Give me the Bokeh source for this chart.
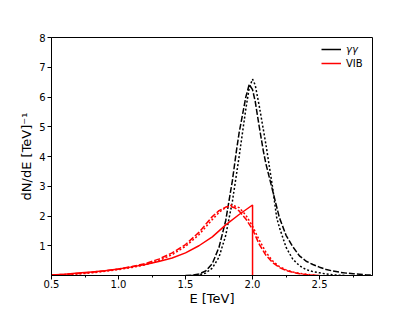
from bokeh.plotting import figure
from bokeh.models import Range1d, FixedTicker, PrintfTickFormatter, Legend, LegendItem
from bokeh.embed import file_html
from bokeh.resources import INLINE

# ---- data ----
# VIB intrinsic spectrum (red solid), with the sharp edge at 2 TeV
vib_E = [0.5, 0.6, 0.7, 0.8, 0.9, 1.0, 1.1, 1.2, 1.3, 1.4, 1.5, 1.6, 1.7, 1.8, 1.9, 2.0, 2.0]
vib_true = [0.02, 0.04, 0.08, 0.12, 0.16, 0.22, 0.29, 0.37, 0.47, 0.59, 0.76, 1.0, 1.3, 1.7, 2.05, 2.37, 0.0]

# VIB smeared (red dashed)
vibd_E = [0.5, 0.6, 0.7, 0.8, 0.9, 1.0, 1.1, 1.2, 1.3, 1.4, 1.5, 1.6, 1.7, 1.75, 1.8, 1.83, 1.87, 1.9,
          1.95, 2.0, 2.05, 2.1, 2.15, 2.2, 2.25, 2.3, 2.35, 2.4, 2.45, 2.5]
vib_dashed = [0.02, 0.04, 0.07, 0.11, 0.16, 0.22, 0.30, 0.40, 0.55, 0.76, 1.04, 1.45, 1.98, 2.18, 2.30, 2.33,
              2.27, 2.17, 1.90, 1.55, 1.05, 0.68, 0.43, 0.27, 0.17, 0.11, 0.06, 0.03, 0.01, 0.0]

# VIB smeared (red dotted)
vibt_E = [0.5, 0.6, 0.7, 0.8, 0.9, 1.0, 1.1, 1.2, 1.3, 1.4, 1.5, 1.6, 1.7, 1.75, 1.8, 1.845, 1.9, 1.95,
          2.0, 2.05, 2.1, 2.15, 2.2, 2.25, 2.3, 2.35, 2.4, 2.45, 2.5]
vib_dotted = [0.01, 0.03, 0.05, 0.09, 0.14, 0.20, 0.27, 0.36, 0.50, 0.70, 0.98, 1.37, 1.88, 2.12, 2.29, 2.37,
              2.28, 2.03, 1.66, 1.19, 0.78, 0.49, 0.30, 0.19, 0.12, 0.07, 0.04, 0.02, 0.0]

# gamma-gamma line smeared (black dashed)
gg_d_E = [1.5, 1.55, 1.6, 1.65, 1.7, 1.75, 1.8, 1.85, 1.88, 1.9, 1.95, 1.975, 2.0, 2.02, 2.05, 2.08, 2.1,
          2.15, 2.2, 2.25, 2.3, 2.35, 2.4, 2.45, 2.5, 2.55, 2.6, 2.65, 2.7, 2.75, 2.8, 2.85, 2.9]
gg_dashed = [0.0, 0.01, 0.05, 0.15, 0.40, 0.95, 1.85, 3.2, 4.2, 4.8, 6.0, 6.42, 6.25, 5.85, 5.0, 4.2, 3.75,
             2.85, 1.95, 1.35, 0.97, 0.66, 0.48, 0.37, 0.28, 0.2, 0.15, 0.11, 0.08, 0.06, 0.04, 0.02, 0.01]

# gamma-gamma line smeared (black dotted)
gg_t_E = [1.55, 1.6, 1.65, 1.7, 1.75, 1.8, 1.85, 1.9, 1.95, 1.975, 2.0, 2.02, 2.05, 2.1, 2.15, 2.18, 2.2,
          2.25, 2.3, 2.35, 2.4, 2.45, 2.5, 2.55, 2.6, 2.65, 2.7]
gg_dotted = [0.0, 0.02, 0.08, 0.25, 0.62, 1.35, 2.5, 4.0, 5.6, 6.3, 6.6, 6.4, 5.7, 4.4, 2.95, 1.95, 1.62,
             0.95, 0.55, 0.33, 0.2, 0.13, 0.09, 0.05, 0.02, 0.01, 0.0]

x_major = [0.5, 1.0, 1.5, 2.0, 2.5]
x_minor = [0.75, 1.25, 1.75, 2.25, 2.75]
y_major = [1, 2, 3, 4, 5, 6, 7, 8]

FONT = "DejaVu Sans"

p = figure(width=405, height=310, output_backend="svg", toolbar_location=None,
           x_range=Range1d(0.5, 2.895), y_range=Range1d(0, 8),
           min_border_left=51, min_border_right=33, min_border_top=37, min_border_bottom=35)
p.xgrid.visible = False
p.ygrid.visible = False
p.outline_line_color = "black"
p.outline_line_width = 1
p.outline_line_alpha = 1
p.background_fill_color = "white"
p.border_fill_color = "white"

for ax in (p.xaxis[0], p.yaxis[0]):
    ax.axis_line_color = "black"
    ax.major_tick_line_color = "black"
    ax.minor_tick_line_color = "black"
    ax.major_tick_out = 4
    ax.major_tick_in = 0
    ax.minor_tick_out = 2
    ax.minor_tick_in = 0
    ax.major_label_text_font = FONT
    ax.major_label_text_font_size = "10px"
    ax.major_label_text_color = "black"
    ax.axis_label_text_font = FONT
    ax.axis_label_text_font_size = "13px"
    ax.axis_label_text_font_style = "normal"
    ax.axis_label_text_color = "black"

p.xaxis[0].major_label_standoff = 0
p.xaxis[0].axis_label_standoff = 0
p.yaxis[0].major_label_standoff = 2
p.yaxis[0].axis_label_standoff = 2

p.xaxis[0].ticker = FixedTicker(ticks=x_major, minor_ticks=x_minor)
p.xaxis[0].formatter = PrintfTickFormatter(format="%.1f")
p.yaxis[0].ticker = FixedTicker(ticks=y_major, minor_ticks=[])
p.xaxis[0].axis_label = "E [TeV]"
p.yaxis[0].axis_label = "dN/dE [TeV]\u207b\u00b9"

# curves
p.line(gg_d_E, gg_dashed, line_color="black", line_width=1.5, line_dash="6 2")
p.line(gg_t_E, gg_dotted, line_color="black", line_width=1.5, line_dash="2 2")
r_vib = p.line(vib_E, vib_true, line_color="red", line_width=1.5)
p.line(vibd_E, vib_dashed, line_color="red", line_width=1.5, line_dash="6 2")
p.line(vibt_E, vib_dotted, line_color="red", line_width=1.5, line_dash="2 2")
# legend key only (solid black), nothing drawn in the frame
r_gg_key = p.line([float("nan")], [float("nan")], line_color="black", line_width=1.5)


def make_legend(label, rend, loc, style):
    lg = Legend(items=[LegendItem(label=label, renderers=[rend])], location=loc,
                border_line_alpha=0, background_fill_alpha=0, padding=0, margin=0,
                glyph_width=20, glyph_height=14, label_height=14, label_standoff=5,
                label_text_font=FONT, label_text_font_size="10px", label_text_color="black",
                label_text_font_style=style)
    p.add_layout(lg)


make_legend("γγ", r_gg_key, (270, 219), "italic")
make_legend("VIB", r_vib, (270, 205), "normal")

open("out.html", "w").write(file_html(p, INLINE))
